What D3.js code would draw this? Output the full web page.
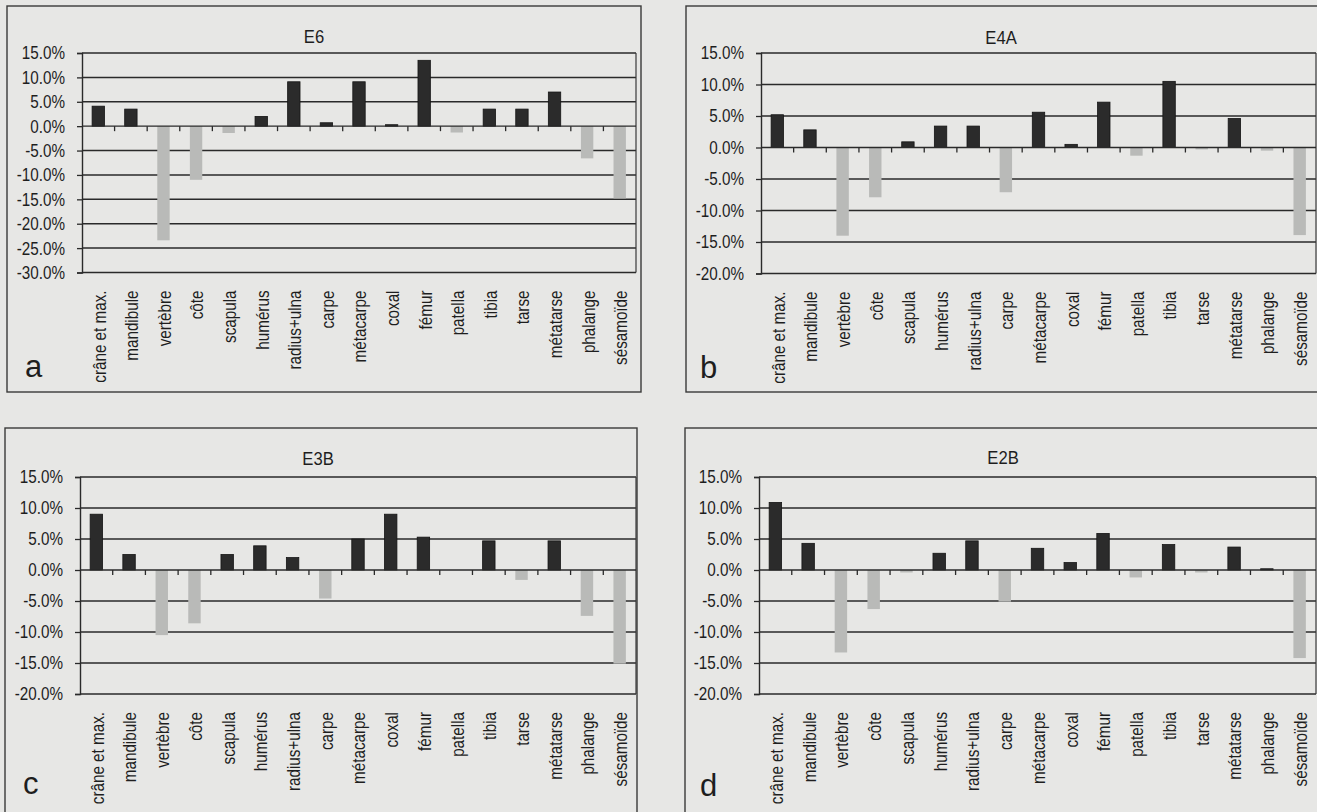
<!DOCTYPE html>
<html>
<head>
<meta charset="utf-8">
<script src="https://cdn.jsdelivr.net/npm/d3@7"></script>
<style>
  html, body { margin: 0; padding: 0; background: #e7e7e5; }
  svg { display: block; }
  text { font-family: "Liberation Sans", Arial, sans-serif; fill: #1e1e1e; }
</style>
</head>
<body>
<svg id="fig" width="1317" height="812"></svg>
<script>
// Skeletal elements (x-axis categories, shared by all four assemblages)
const categories = [
  "crâne et max.", "mandibule", "vertèbre", "côte", "scapula", "humérus",
  "radius+ulna", "carpe", "métacarpe", "coxal", "fémur", "patella",
  "tibia", "tarse", "métatarse", "phalange", "sésamoïde"
];

// Difference per element, in percent, for each assemblage
const valuesE6  = [4.1, 3.5, -23.4, -11.0, -1.4, 2.0, 9.1, 0.7, 9.1, 0.3, 13.5, -1.3, 3.5, 3.5, 7.0, -6.6, -14.8];
const valuesE4A = [5.2, 2.8, -14.0, -7.9, 0.9, 3.4, 3.4, -7.1, 5.6, 0.5, 7.2, -1.3, 10.5, -0.3, 4.6, -0.5, -13.9];
const valuesE3B = [9.0, 2.5, -10.5, -8.6, 2.5, 3.9, 2.0, -4.6, 5.0, 9.0, 5.3, 0.0, 4.7, -1.6, 4.7, -7.4, -15.1];
const valuesE2B = [10.9, 4.3, -13.3, -6.3, -0.4, 2.7, 4.7, -5.1, 3.5, 1.2, 5.9, -1.2, 4.1, -0.4, 3.7, 0.2, -14.2];

// Y-axis tick values
const ticksE6    = [15, 10, 5, 0, -5, -10, -15, -20, -25, -30];
const ticksOther = [15, 10, 5, 0, -5, -10, -15, -20];

const panels = [
  { name: "E6",  letter: "a", values: valuesE6,  ticks: ticksE6,
    box: [7, 6, 641, 392],    plot: [82, 636, 53, 272.5], title: [314, 37],  letterPos: [25, 377] },
  { name: "E4A", letter: "b", values: valuesE4A, ticks: ticksOther,
    box: [686, 6, 1320, 392], plot: [761, 1316, 53, 273.5], title: [1001, 38], letterPos: [700, 378] },
  { name: "E3B", letter: "c", values: valuesE3B, ticks: ticksOther,
    box: [5, 428, 637, 820],  plot: [80, 636, 477, 694], title: [318, 459], letterPos: [23, 794] },
  { name: "E2B", letter: "d", values: valuesE2B, ticks: ticksOther,
    box: [685, 428, 1320, 820], plot: [759, 1316, 477, 694], title: [1003, 458], letterPos: [700, 796] }
];

const svg = d3.select("#fig");
const fmt = v => v.toFixed(1) + "%";
const LABEL_SIZE = 17.5;   // axis text: narrow sans look
const NARROW = 0.87;

panels.forEach(p => {
  const g = svg.append("g");
  const [left, right, top, bottom] = p.plot;

  const x = d3.scaleBand().domain(categories).range([left, right]).paddingInner(0).paddingOuter(0);
  const y = d3.scaleLinear().domain([d3.min(p.ticks), d3.max(p.ticks)]).range([bottom, top]);

  // outer frame of the panel
  g.append("rect")
    .attr("x", p.box[0]).attr("y", p.box[1])
    .attr("width", p.box[2] - p.box[0]).attr("height", p.box[3] - p.box[1])
    .attr("fill", "none").attr("stroke", "#3a3a3a").attr("stroke-width", 1.4);

  // horizontal gridlines
  g.append("g").selectAll("line").data(p.ticks.filter(t => t !== 0)).join("line")
    .attr("x1", left).attr("x2", right)
    .attr("y1", d => y(d)).attr("y2", d => y(d))
    .attr("stroke", "#2a2a2a").attr("stroke-width", 1.5);

  // right border of the plot area
  g.append("line")
    .attr("x1", right).attr("x2", right).attr("y1", top).attr("y2", bottom)
    .attr("stroke", "#3a3a3a").attr("stroke-width", 1.2);

  // bars
  const barW = x.bandwidth() * 0.38;
  g.append("g").selectAll("rect").data(p.values.map((v, i) => ({ v, c: categories[i] })))
    .join("rect")
    .filter(d => d.v !== 0)
    .attr("x", d => x(d.c) + (x.bandwidth() - barW) / 2)
    .attr("width", barW)
    .attr("y", d => y(Math.max(0, d.v)))
    .attr("height", d => Math.abs(y(d.v) - y(0)))
    .attr("fill", d => d.v > 0 ? "#2b2b2b" : "#b9bab8")
    .attr("stroke", d => d.v > 0 ? "#151515" : "none")
    .attr("stroke-width", 0.8);

  // y axis line and ticks
  const yAxis = d3.axisLeft(y).tickValues(p.ticks).tickFormat("").tickSize(5);
  const ya = g.append("g").attr("transform", `translate(${left},0)`).call(yAxis);
  ya.select(".domain").attr("stroke", "#2a2a2a").attr("stroke-width", 1.4);
  ya.selectAll(".tick line").attr("stroke", "#2a2a2a").attr("stroke-width", 1.3);

  // y tick labels, right-aligned left of the axis
  g.append("g").selectAll("text").data(p.ticks).join("text")
    .attr("transform", d => `translate(${left - 17},${y(d)}) scale(${NARROW},1)`)
    .attr("text-anchor", "end")
    .attr("dominant-baseline", "central")
    .attr("font-size", LABEL_SIZE)
    .text(fmt);

  // x axis on the zero line, ticks between categories
  const zero = y(0);
  g.append("line")
    .attr("x1", left).attr("x2", right).attr("y1", zero).attr("y2", zero)
    .attr("stroke", "#2a2a2a").attr("stroke-width", 1.4);
  g.append("g").selectAll("line").data(categories.slice(1)).join("line")
    .attr("x1", d => x(d)).attr("x2", d => x(d))
    .attr("y1", zero).attr("y2", zero + 5)
    .attr("stroke", "#2a2a2a").attr("stroke-width", 1.3);

  // category labels, rotated below the plot
  g.append("g").selectAll("text").data(categories).join("text")
    .attr("transform", d => `translate(${x(d) + x.bandwidth() / 2 + 1},${bottom + 18}) rotate(-90) scale(${NARROW},1)`)
    .attr("text-anchor", "end")
    .attr("dominant-baseline", "central")
    .attr("font-size", LABEL_SIZE)
    .text(d => d);

  // title
  g.append("text")
    .attr("transform", `translate(${p.title[0]},${p.title[1]}) scale(0.9,1)`)
    .attr("text-anchor", "middle").attr("dominant-baseline", "central")
    .attr("font-size", 18.5)
    .text(p.name);

  // panel letter
  g.append("text")
    .attr("x", p.letterPos[0]).attr("y", p.letterPos[1])
    .attr("font-size", 31)
    .text(p.letter);
});
</script>
</body>
</html>
